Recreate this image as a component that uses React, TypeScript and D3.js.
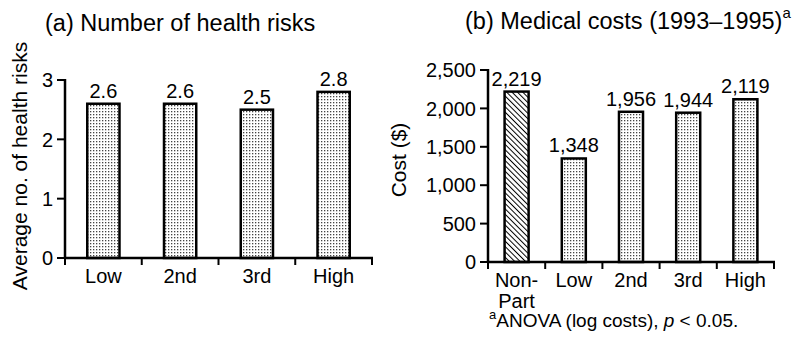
import React from "react";
import { scaleBand, scaleLinear, format } from "d3";

// panel (a)
const riskCats = ["Low", "2nd", "3rd", "High"];
const riskValues = [2.6, 2.6, 2.5, 2.8];
const riskLabels = ["2.6", "2.6", "2.5", "2.8"];
const riskTicks = [0, 1, 2, 3];

// panel (b)
const costCats = ["Non-Part", "Low", "2nd", "3rd", "High"];
const costValues = [2219, 1348, 1956, 1944, 2119];
const costTicks = [0, 500, 1000, 1500, 2000, 2500];

const font = "'Liberation Sans', Arial, Helvetica, sans-serif";
const fs = 20;

const Panel = ({ cats, values, labels, ticks, x0, x1, y0, y1, yMax, tickFmt, firstHatched }) => {
  const xScale = scaleBand().domain(cats).range([x0, x1]).padding(0);
  const yScale = scaleLinear().domain([0, yMax]).range([y0, y1]);
  const barW = xScale.bandwidth() * 0.42;

  const bars = cats.map((c, i) => {
    const bx = xScale(c) + (xScale.bandwidth() - barW) / 2;
    const top = yScale(values[i]);
    return (
      <g key={c}>
        <rect
          x={bx} y={top} width={barW} height={y0 - top}
          fill={firstHatched && i === 0 ? "url(#hatch)" : "url(#dots)"}
          stroke="#000" strokeWidth={2.5}
        />
        <text x={bx + barW / 2} y={top - 6} textAnchor="middle" fontSize={fs}>
          {labels[i]}
        </text>
      </g>
    );
  });

  const yTicks = ticks.map((t) => (
    <g key={t}>
      <line x1={x0 - 8} x2={x0} y1={yScale(t)} y2={yScale(t)} stroke="#000" strokeWidth={2} />
      <text x={x0 - 12} y={yScale(t)} dy="0.36em" textAnchor="end" fontSize={fs}>
        {tickFmt(t)}
      </text>
    </g>
  ));

  const xTickPos = cats.map((c) => xScale(c)).concat([x1]);
  const xTicks = xTickPos.map((p, i) => (
    <line key={i} x1={p} x2={p} y1={y0} y2={y0 + 7} stroke="#000" strokeWidth={2} />
  ));

  const catLabels = cats.map((c) => {
    const cx = xScale(c) + xScale.bandwidth() / 2;
    const parts = c === "Non-Part" ? ["Non-", "Part"] : [c];
    return (
      <text key={c} x={cx} y={y0 + 25} textAnchor="middle" fontSize={fs}>
        {parts.map((p, j) => (
          <tspan key={j} x={cx} dy={j === 0 ? 0 : 21}>{p}</tspan>
        ))}
      </text>
    );
  });

  return (
    <g>
      {bars}
      <line x1={x0} x2={x0} y1={y1 - 1} y2={y0 + 1} stroke="#000" strokeWidth={2.5} />
      <line x1={x0 - 1} x2={x1 + 1} y1={y0} y2={y0} stroke="#000" strokeWidth={2.5} />
      {yTicks}
      {xTicks}
      {catLabels}
    </g>
  );
};

const App = () => {
  const fmtComma = format(",");
  return (
    <svg
      width={800} height={350} viewBox="0 0 800 350"
      style={{ position: "absolute", left: 0, top: 0, background: "#fff" }}
      fontFamily={font} fill="#000"
    >
      <defs>
        <pattern id="dots" width={3} height={3} patternUnits="userSpaceOnUse">
          <rect width={3} height={3} fill="#fff" />
          <rect x={0} y={0} width={1.3} height={1.3} fill="#444" />
        </pattern>
        <pattern id="hatch" width={3.8} height={3.8} patternUnits="userSpaceOnUse" patternTransform="rotate(-45)">
          <rect width={3.8} height={3.8} fill="#fff" />
          <line x1={0} y1={0} x2={0} y2={3.8} stroke="#000" strokeWidth={2} />
        </pattern>
      </defs>

      <text x={45} y={31} fontSize={23.5}>(a) Number of health risks</text>
      <text transform="translate(27,166) rotate(-90)" textAnchor="middle" fontSize={21}>
        Average no. of health risks
      </text>
      <Panel
        cats={riskCats} values={riskValues} labels={riskLabels} ticks={riskTicks}
        x0={65} x1={372} y0={258} y1={80} yMax={3} tickFmt={(t) => String(t)}
      />

      <text x={465} y={29} fontSize={23.5}>
        (b) Medical costs (1993–1995)
        <tspan fontSize={15} dy={-11}>a</tspan>
      </text>
      <text transform="translate(406,160) rotate(-90)" textAnchor="middle" fontSize={21}>
        Cost ($)
      </text>
      <Panel
        cats={costCats} values={costValues} labels={costValues.map(fmtComma)} ticks={costTicks}
        x0={488} x1={774} y0={262} y1={70} yMax={2500} tickFmt={fmtComma} firstHatched
      />

      <text x={489} y={327} fontSize={19}>
        <tspan fontSize={13} dy={-8}>a</tspan>
        <tspan dy={8}>ANOVA (log costs), </tspan>
        <tspan fontStyle="italic">p</tspan>
        <tspan> &lt; 0.05.</tspan>
      </text>
    </svg>
  );
};

export default App;
